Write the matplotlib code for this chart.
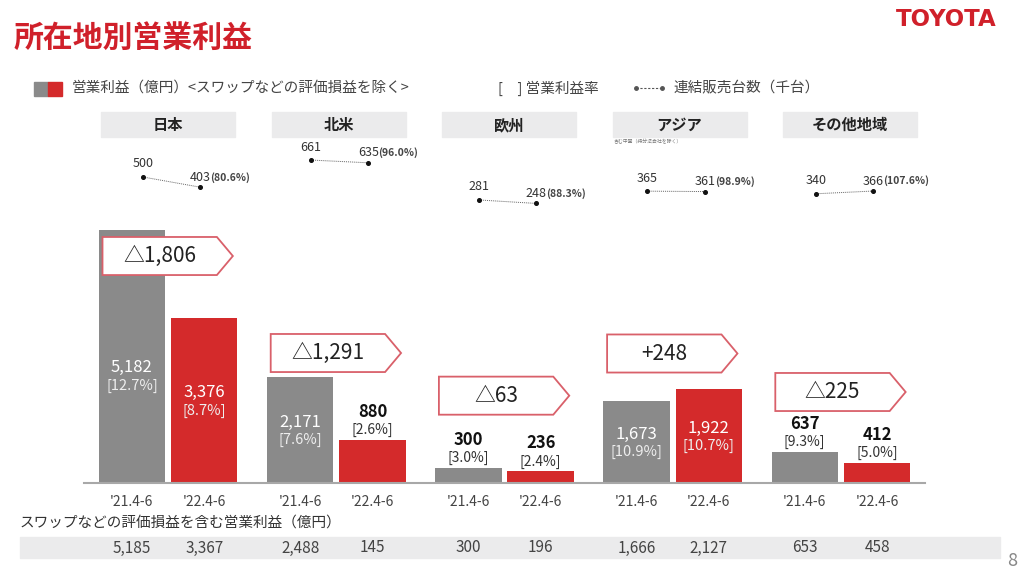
import matplotlib.pyplot as plt
import matplotlib.transforms as mtransforms
from matplotlib.patches import Rectangle, Polygon
from matplotlib.lines import Line2D

plt.rcParams['font.family'] = ['Noto Sans CJK JP', 'DejaVu Sans']

regions = ["日本", "北米", "欧州", "アジア", "その他地域"]
periods = ["'21.4-6", "'22.4-6"]
profit_21 = [5182, 2171, 300, 1673, 637]
profit_22 = [3376, 880, 236, 1922, 412]
margin_21 = ["12.7%", "7.6%", "3.0%", "10.9%", "9.3%"]
margin_22 = ["8.7%", "2.6%", "2.4%", "10.7%", "5.0%"]
change = ["△1,806", "△1,291", "△63", "+248", "△225"]
sales_21 = [500, 661, 281, 365, 340]
sales_22 = [403, 635, 248, 361, 366]
sales_ratio = ["80.6%", "96.0%", "88.3%", "98.9%", "107.6%"]
swap_21 = [5185, 2488, 300, 1666, 653]
swap_22 = [3367, 145, 196, 2127, 458]

GRAY = "#8a8a8a"
RED = "#d42a2b"
EDGE = "#d9606a"
BAND = "#ebebec"

W, H = 1024, 573
fig = plt.figure(figsize=(W / 100, H / 100), dpi=100)


def fx(x):
    return x / W


def fy(y):
    return 1 - y / H


# title and logo
fig.text(fx(14), fy(38), "所在地別営業利益", color="#d0202a", fontsize=21.5,
         fontweight="bold", va="center")
fig.text(fx(946), fy(19), "TOYOTA", color="#d0202a", fontsize=16.5,
         fontweight="bold", va="center", ha="center", family="DejaVu Sans")

# legend row
fig.patches.append(Rectangle((fx(34), fy(96)), fx(14), 14 / H, color=GRAY,
                             transform=fig.transFigure))
fig.patches.append(Rectangle((fx(48), fy(96)), fx(14), 14 / H, color=RED,
                             transform=fig.transFigure))
fig.text(fx(72), fy(88), "営業利益（億円）<スワップなどの評価損益を除く>",
         fontsize=10.5, color="#444444", va="center")
fig.text(fx(498), fy(88), "[　] 営業利益率", fontsize=10.5, color="#444444", va="center")
fig.lines.append(Line2D([fx(636), fx(662)], [fy(88), fy(88)], transform=fig.transFigure,
                        color="#555555", lw=0.8, ls=(0, (2, 1.5)), marker="o",
                        markersize=2.5, markevery=[0, 1]))
fig.text(fx(673), fy(88), "連結販売台数（千台）", fontsize=10.5, color="#444444",
         va="center")

# region headers
for i, name in enumerate(regions):
    cx = 168 + 170.5 * i
    fig.patches.append(Rectangle((fx(cx - 67), fy(137)), fx(134), 25 / H, color=BAND,
                                 transform=fig.transFigure))
    fig.text(fx(cx), fy(125), name, fontsize=11, fontweight="bold", ha="center",
             va="center", color="#222222")
fig.text(fx(614), fy(142), "含む中国（持分法会社を除く）", fontsize=3.5, color="#777777",
         va="center")

# bars
ax = fig.add_axes([fx(84), fy(483), fx(841), 283 / H])
ax.set_xlim(-0.5, 4.5)
ax.set_ylim(0, 5800)
xs = list(range(len(regions)))
off = 0.215
bw = 0.395
x21 = [x - off for x in xs]
x22 = [x + off for x in xs]
ax.bar(x21, profit_21, width=bw, color=GRAY)
ax.bar(x22, profit_22, width=bw, color=RED)
for s in ["top", "right", "left"]:
    ax.spines[s].set_visible(False)
ax.spines["bottom"].set_color("#a8a8a8")
ax.spines["bottom"].set_linewidth(1.5)
ax.set_yticks([])
ax.set_xticks(x21 + x22, [periods[0]] * 5 + [periods[1]] * 5)
ax.tick_params(axis="x", length=0, pad=9, labelsize=10, labelcolor="#444444")


def bar_label(x, v, pct):
    txt = f"{v:,}"
    if v >= 1000:
        yc = min(v * 0.5, 2200)
        ax.annotate(txt, (x, yc), xytext=(0, 8), textcoords="offset pixels",
                    ha="center", va="center", color="white", fontsize=12)
        ax.annotate(f"[{pct}]", (x, yc), xytext=(0, -10), textcoords="offset pixels",
                    ha="center", va="center", color="#eeeeee", fontsize=10.5)
    else:
        ax.annotate(f"[{pct}]", (x, v), xytext=(0, 10), textcoords="offset pixels",
                    ha="center", va="center", color="#333333", fontsize=10)
        ax.annotate(txt, (x, v), xytext=(0, 28), textcoords="offset pixels",
                    ha="center", va="center", color="#111111", fontsize=12,
                    fontweight="bold")


for i in xs:
    bar_label(x21[i], profit_21[i], margin_21[i])
    bar_label(x22[i], profit_22[i], margin_22[i])

# change callouts
box_y = [4652, 2664, 1790, 2654, 1865]
half_h = 390
for i in xs:
    l, r, tip = i - 0.39, i + 0.29, i + 0.385
    yc = box_y[i]
    poly = Polygon([(l, yc - half_h), (r, yc - half_h), (tip, yc), (r, yc + half_h),
                    (l, yc + half_h)], closed=True, facecolor="white", edgecolor=EDGE,
                   lw=1.3, clip_on=False, zorder=3)
    ax.add_patch(poly)
    ax.text(i - 0.05, yc, change[i], ha="center", va="center", fontsize=15,
            color="#222222", zorder=4)

# sales volume dots
av = fig.add_axes([fx(84), fy(215), fx(841), 75 / H])
av.set_xlim(-0.5, 4.5)
av.set_ylim(138, 852)
av.axis("off")
for i in xs:
    xa, xb = i - 0.15, i + 0.19
    av.plot([xa, xb], [sales_21[i], sales_22[i]], color="#666666", lw=0.7,
            ls=(0, (1, 1)), marker="o", markersize=2.6, markerfacecolor="#111111",
            markeredgecolor="#111111", clip_on=False)
    av.annotate(str(sales_21[i]), (xa, sales_21[i]), xytext=(0, 13),
                textcoords="offset pixels", ha="center", va="center", fontsize=9,
                color="#333333")
    av.annotate(str(sales_22[i]), (xb, sales_22[i]), xytext=(0, 10),
                textcoords="offset pixels", ha="center", va="center", fontsize=9,
                color="#333333")
    av.annotate(f"({sales_ratio[i]})", (xb, sales_22[i]), xytext=(10, 10),
                textcoords="offset pixels", ha="left", va="center", fontsize=7.5,
                fontweight="bold", color="#444444")

# swap-included row
fig.text(fx(20), fy(523), "スワップなどの評価損益を含む営業利益（億円）", fontsize=10.5,
         color="#333333", va="center")
fig.patches.append(Rectangle((fx(20), fy(558)), fx(980), 21 / H, color=BAND,
                             transform=fig.transFigure))
trans = mtransforms.blended_transform_factory(ax.transData, fig.transFigure)
for i in xs:
    fig.text(x21[i], fy(548), f"{swap_21[i]:,}", transform=trans, ha="center",
             va="center", fontsize=11, color="#444444")
    fig.text(x22[i], fy(548), f"{swap_22[i]:,}", transform=trans, ha="center",
             va="center", fontsize=11, color="#444444")

fig.text(fx(1012), fy(561), "8", fontsize=13, color="#888888", ha="center", va="center")

fig.savefig("out.png", dpi=100)
